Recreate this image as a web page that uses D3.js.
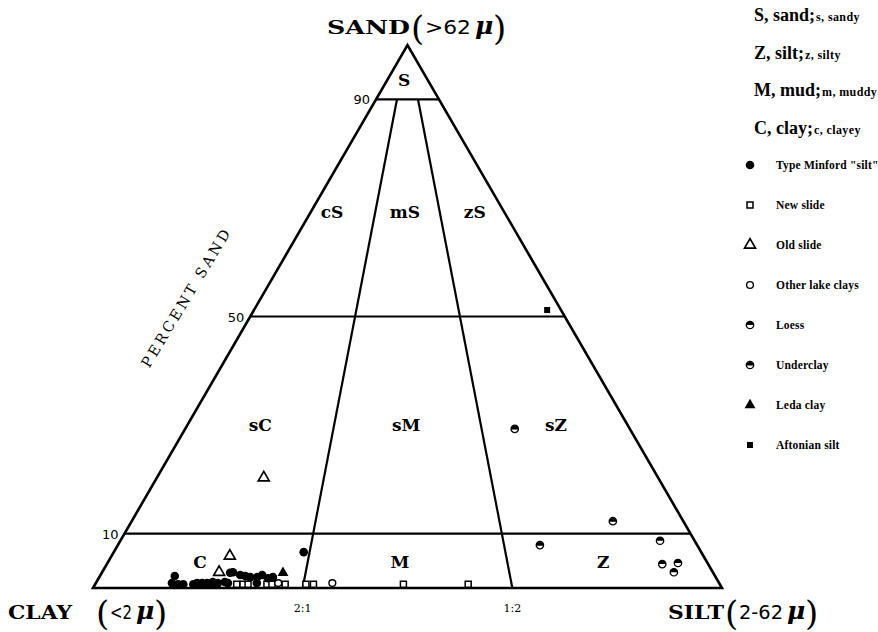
<!DOCTYPE html>
<head>
  <meta charset="utf-8">
  <style>
    body { margin: 0; background: #fff; }
    svg text { font-family: "DejaVu Serif", serif; font-weight: bold; fill: #000; }
    svg .edge { stroke: #000; stroke-width: 2.6px; fill: none; }
    svg .divider { stroke: #000; stroke-width: 2.2px; fill: none; }
  </style>
</head>
<body>
<script src="https://d3js.org/d3.v7.min.js"></script>
<script>
  // ternary data: [percent sand, percent silt]  (clay = rest)
  var minford = [[6.6,30.2],[2.2,11.9],[0.9,12.1],[0.7,13.2],[0.7,14.0],[0.7,15.6],[0.9,16.1],
                 [0.9,16.9],[0.9,17.7],[1.1,18.5],[0.9,19.4],[1.1,20.4],[0.9,21.0],[2.8,20.4],
                 [2.9,20.8],[2.4,22.2],[2.2,23.1],[2.0,24.0],[2.0,25.1],[2.4,25.7],[1.8,26.9],
                 [2.0,27.6],[0.9,25.6],[0.7,18.6]];
  var newSlide = [[0.7,22.5],[0.7,23.5],[0.7,24.3],[0.7,27.3],[0.7,28.1],[0.7,30.2],
                  [0.7,33.5],[0.7,34.7],[0.7,49.0],[0.7,59.3]];
  var oldSlide = [[20.3,17.0],[5.9,18.8],[2.9,18.6]];
  var lakeClays = [[0.9,37.6],[0.9,29.0]];
  var loess = [[8.7,85.8],[4.4,88.3],[4.6,90.7],[2.9,90.9]];
  var underclay = [[29.3,52.4],[12.3,76.5],[7.9,67.1]];
  var ledaClay = [[2.8,28.8]];
  var aftonian = [[51.2,46.6]];

  var sandTicks = [90, 50, 10];
  var ratioLines = [{ label: "2:1", silt: 100 / 3 }, { label: "1:2", silt: 200 / 3 }];

  // class labels: [sand, silt, text]
  var classLabels = [[93.5, 2.7, "S"], [69.2, 3.4, "cS"], [69.2, 15, "mS"], [69.2, 26.1, "zS"],
                     [30, 11.6, "sC"], [30, 34.8, "sM"], [30, 58.6, "sZ"],
                     [4.8, 14.6, "C"], [4.8, 46.4, "M"], [4.8, 78.7, "Z"]];

  var textKeys = [["S, sand;", "s, sandy"], ["Z, silt;", "z, silty"],
                  ["M, mud;", "m, muddy"], ["C, clay;", "c, clayey"]];
  var symbolKeys = [["minford", "Type Minford \"silt\""], ["newSlide", "New slide"],
                    ["oldSlide", "Old slide"], ["lakeClays", "Other lake clays"],
                    ["loess", "Loess"], ["underclay", "Underclay"],
                    ["ledaClay", "Leda clay"], ["aftonian", "Aftonian silt"]];

  var width = 878, height = 632;
  var svg = d3.select("body").append("svg")
      .attr("width", width)
      .attr("height", height);

  // scales: x along base (silt + sand/2), y up by sand
  var xScale = d3.scaleLinear().domain([0, 100]).range([93, 722]);
  var yScale = d3.scaleLinear().domain([0, 100]).range([588, 45]);
  function px(sand, silt) { return xScale(silt + sand / 2); }
  function py(sand) { return yScale(sand); }

  // outer triangle
  svg.append("path")
      .classed("edge", true)
      .attr("d", "M" + px(0, 0) + "," + py(0) + "L" + px(100, 0) + "," + py(100) +
                 "L" + px(0, 100) + "," + py(0) + "Z");

  // sand lines 90, 50, 10
  sandTicks.forEach(function (s) {
    svg.append("line")
        .classed("divider", true)
        .attr("x1", px(s, 0)).attr("y1", py(s))
        .attr("x2", px(s, 100 - s)).attr("y2", py(s));
    svg.append("text")
        .attr("x", px(s, 0) - 6)
        .attr("y", py(s) + 5)
        .style("text-anchor", "end")
        .style("font-family", "'DejaVu Sans', sans-serif")
        .style("font-size", "13px")
        .style("font-weight", "normal")
        .text(s);
  });

  // clay:silt ratio lines from base to the 90 line
  ratioLines.forEach(function (r) {
    svg.append("line")
        .classed("divider", true)
        .attr("x1", px(0, r.silt)).attr("y1", py(0))
        .attr("x2", px(90, r.silt * 0.1)).attr("y2", py(90));
    svg.append("text")
        .attr("x", px(0, r.silt))
        .attr("y", 612)
        .style("text-anchor", "middle")
        .style("font-size", "11px")
        .style("font-weight", "normal")
        .text(r.label);
  });

  classLabels.forEach(function (d) {
    svg.append("text")
        .attr("x", px(d[0], d[1]))
        .attr("y", py(d[0]) + 6)
        .style("text-anchor", "middle")
        .style("font-size", "17px")
        .text(d[2]);
  });

  // axis title along left edge
  svg.append("text")
      .attr("transform", "translate(190,301) rotate(-59)")
      .attr("x", -79)
      .attr("textLength", 158)
      .attr("lengthAdjust", "spacing")
      .style("font-size", "14.5px")
      .style("font-weight", "normal")
      .text("PERCENT SAND");

  // corner labels, pieces placed along the line
  function cornerLabel(x, y, name, nameLen, inner, innerLen) {
    var cx = x;
    if (name) {
      svg.append("text").attr("x", cx).attr("y", y)
          .attr("textLength", nameLen).attr("lengthAdjust", "spacingAndGlyphs")
          .style("font-size", "18px").text(name);
      cx += nameLen + 1;
    }
    svg.append("text").attr("x", cx).attr("y", y + 6)
        .style("font-size", "34px").style("font-weight", "normal").text("(");
    cx += 14;
    svg.append("text").attr("x", cx).attr("y", y)
        .attr("textLength", innerLen).attr("lengthAdjust", "spacingAndGlyphs")
        .style("font-family", "'DejaVu Sans', sans-serif")
        .style("font-size", "19px").style("font-weight", "normal").text(inner);
    cx += innerLen + 4;
    svg.append("text").attr("x", cx).attr("y", y)
        .style("font-size", "25px").style("font-style", "italic").text("\u03bc");
    cx += 18;
    svg.append("text").attr("x", cx).attr("y", y + 6)
        .style("font-size", "34px").style("font-weight", "normal").text(")");
  }
  cornerLabel(327, 34, "SAND", 83, ">62", 46);
  svg.append("text").attr("x", 8).attr("y", 619)
      .attr("textLength", 64).attr("lengthAdjust", "spacingAndGlyphs")
      .style("font-size", "18px").text("CLAY");
  cornerLabel(96, 619, "", 0, "<2", 22);
  cornerLabel(668, 619, "SILT", 56, "2-62", 44);

  // symbol drawing
  var sq = d3.symbol().type(d3.symbolSquare).size(36);
  var tri = d3.symbol().type(d3.symbolTriangle).size(52);
  function drawMark(g, kind) {
    if (kind === "minford") {
      g.append("circle").attr("r", 4.3).style("fill", "#000");
    } else if (kind === "newSlide") {
      g.append("path").attr("d", sq).style("fill", "#fff").style("stroke", "#000").style("stroke-width", 1.5);
    } else if (kind === "oldSlide") {
      g.append("path").attr("d", tri).style("fill", "#fff").style("stroke", "#000").style("stroke-width", 1.7);
    } else if (kind === "lakeClays") {
      g.append("circle").attr("r", 3.4).style("fill", "#fff").style("stroke", "#000").style("stroke-width", 1.4);
    } else if (kind === "loess") {
      g.append("circle").attr("r", 3.7).style("fill", "#fff").style("stroke", "#000").style("stroke-width", 1.3);
      g.append("path").attr("d", "M-3.7,0A3.7,3.7 0 0,1 3.7,0Z").style("fill", "#000");
    } else if (kind === "underclay") {
      g.append("circle").attr("r", 3.7).style("fill", "#fff").style("stroke", "#000").style("stroke-width", 1.3);
      g.append("path").attr("d", "M-3.7,0.6A3.7,3.7 0 0,1 3.7,0.6Z").style("fill", "#000");
    } else if (kind === "ledaClay") {
      g.append("path").attr("d", tri).style("fill", "#000");
    } else if (kind === "aftonian") {
      g.append("path").attr("d", sq).style("fill", "#000");
    }
  }

  var series = { minford: minford, newSlide: newSlide, oldSlide: oldSlide, lakeClays: lakeClays,
                 loess: loess, underclay: underclay, ledaClay: ledaClay, aftonian: aftonian };
  var drawOrder = ["newSlide", "lakeClays", "minford", "oldSlide", "ledaClay", "loess", "underclay", "aftonian"];
  drawOrder.forEach(function (k) {
    svg.selectAll("g.pt-" + k)
      .data(series[k])
      .enter()
      .append("g")
        .attr("class", "pt-" + k)
        .attr("transform", function (d) { return "translate(" + px(d[0], d[1]) + "," + py(d[0]) + ")"; })
        .each(function () { drawMark(d3.select(this), k); });
  });

  // legend
  textKeys.forEach(function (d, i) {
    var t = svg.append("text").attr("x", 754).attr("y", 21 + i * 37.5)
        .style("font-family", "'Liberation Serif', serif")
        .style("font-size", "18px");
    t.append("tspan").text(d[0]);
    t.append("tspan").attr("dx", 1).style("font-size", "12px").style("letter-spacing", "0.4px").text(d[1]);
  });
  symbolKeys.forEach(function (d, i) {
    var y = 165 + i * 40;
    var g = svg.append("g").attr("transform", "translate(750," + y + ")");
    drawMark(g, d[0]);
    svg.append("text")
        .attr("x", 776)
        .attr("y", y + 4)
        .style("font-family", "'Liberation Serif', serif")
        .style("font-size", "11.5px")
        .style("letter-spacing", "0.2px")
        .text(d[1]);
  });
</script>
</body>
</html>
